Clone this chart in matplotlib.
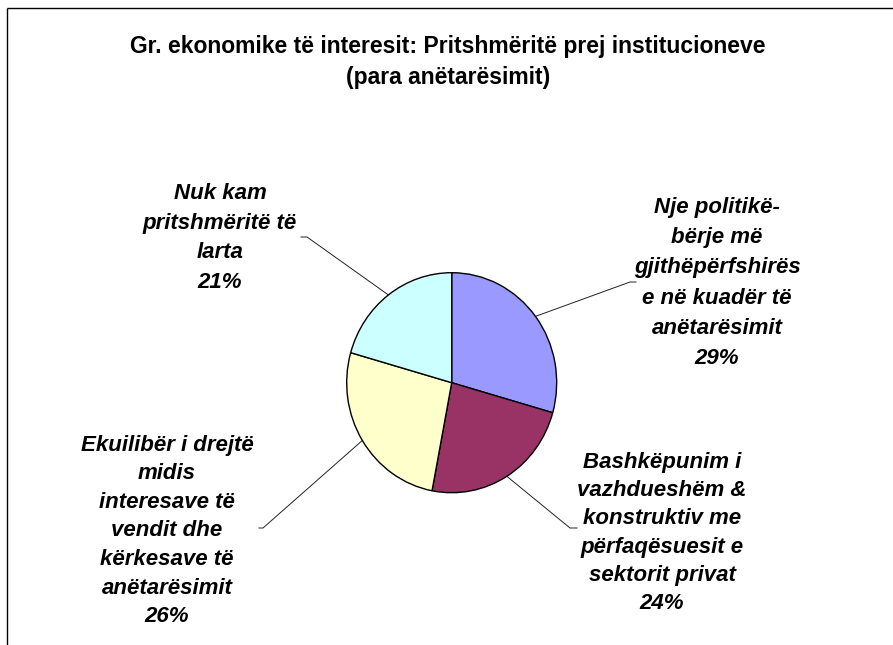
import numpy as np
import matplotlib
matplotlib.use("Agg")
import matplotlib.pyplot as plt

# data
labels = [
    "Nje politikë-\nbërje më\ngjithëpërfshirës\ne në kuadër të\nanëtarësimit",
    "Bashkëpunim i\nvazhdueshëm &\nkonstruktiv me\npërfaqësuesit e\nsektorit privat",
    "Ekuilibër i drejtë\nmidis\ninteresave të\nvendit dhe\nkërkesave të\nanëtarësimit",
    "Nuk kam\npritshmëritë të\nlarta",
]
values = [29.4, 23.6, 26.4, 20.6]
colors = ["#9999FF", "#993366", "#FFFFCC", "#CCFFFF"]
title = "Gr. ekonomike të interesit: Pritshmëritë prej institucioneve\n(para anëtarësimit)"

W, H = 893, 645
font = ["Liberation Sans", "DejaVu Sans"]

# layout (pixels)
cx, cy, rx, ry = 451.7, 382.7, 105, 110
label_pos = [(717, 283), (662, 533), (167, 531), (220, 238)]
label_ls = [1.57, 1.46, 1.47, 1.53]
elbows = [((630, 282), (636, 282)), ((570, 528), (577, 528)),
          ((263, 528), (259, 528)), ((307, 237), (301, 237))]

fig = plt.figure(figsize=(W / 100, H / 100), dpi=100)
fig.patch.set_facecolor("white")

# overlay in pixel coordinates
ov = fig.add_axes([0, 0, 1, 1])
ov.set_xlim(0, W)
ov.set_ylim(H, 0)
ov.axis("off")

# pie axes, slightly taller than wide like the original
pa = fig.add_axes([(cx - rx) / W, (H - cy - ry) / H, 2 * rx / W, 2 * ry / H])
wedges, _ = pa.pie(values, colors=colors, startangle=90, counterclock=False,
                   wedgeprops=dict(edgecolor="black", linewidth=1.0))
pa.set_aspect("auto")
pa.set_xlim(-1, 1)
pa.set_ylim(-1, 1)
for w in wedges:
    w.set_clip_on(False)

# frame (top and left only)
ov.plot([7, W], [8, 8], color="black", lw=1.0, solid_capstyle="butt")
ov.plot([7, 7], [8, H], color="black", lw=1.0, solid_capstyle="butt")

ov.text(448, 62, title, ha="center", va="center", fontsize=16.5,
        fontweight="bold", family=font, linespacing=1.42)

# labels and leader lines
for w, lab, v, (lx, ly), (e1, e2), ls in zip(wedges, labels, values, label_pos, elbows, label_ls):
    ang = np.deg2rad((w.theta1 + w.theta2) / 2)
    ax_ = cx + rx * np.cos(ang)
    ay_ = cy - ry * np.sin(ang)
    ov.plot([ax_, e1[0], e2[0]], [ay_, e1[1], e2[1]], color="#222222", lw=0.7)
    ov.text(lx, ly, f"{lab}\n{v:.0f}%", ha="center", va="center",
            multialignment="center", fontsize=16, fontweight="bold",
            style="italic", family=font, linespacing=ls)

fig.savefig("out.png", dpi=100)
